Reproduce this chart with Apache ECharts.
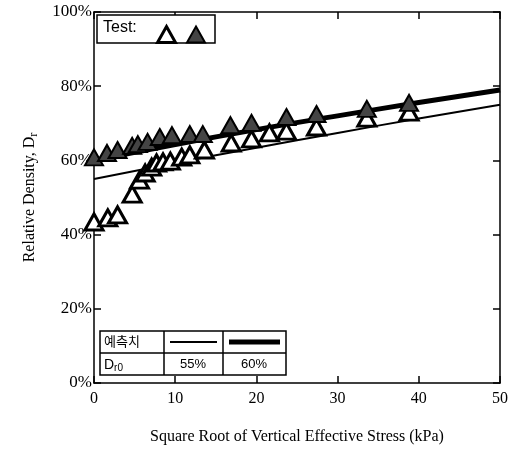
<!DOCTYPE html>
<html><head><meta charset="utf-8">
<script src="https://cdn.jsdelivr.net/npm/echarts@6/dist/echarts.min.js"></script>
<style>html,body{margin:0;padding:0;background:#fff}#c{width:516px;height:452px}</style>
</head><body><div id="c"></div>
<script>
// ---- data ----
const xTicks = [0, 10, 20, 30, 40, 50];
const yTicks = [0, 20, 40, 60, 80, 100];
const testLooseX = [0, 1.7, 2.9, 4.7, 5.6, 6.3, 7.1, 7.7, 8.5, 9.4, 10.8, 11.8, 13.6, 16.9, 19.4, 21.6, 23.7, 27.4, 33.6, 38.8];
const testLooseY = [43.4, 44.5, 45.3, 50.9, 54.7, 56.6, 58.2, 59.3, 59.6, 59.8, 60.9, 61.5, 62.8, 64.7, 65.8, 67.4, 67.9, 69.0, 71.4, 73.0];
const testDenseX = [0, 1.6, 2.9, 4.7, 5.4, 6.6, 8.1, 9.6, 11.8, 13.4, 16.8, 19.4, 23.7, 27.4, 33.6, 38.8];
const testDenseY = [60.8, 62.0, 62.8, 63.9, 64.4, 65.0, 66.3, 66.8, 67.1, 67.1, 69.5, 70.1, 71.7, 72.5, 73.9, 75.5];
const predX = [0, 10, 20, 30, 40, 50];
const pred55 = [55, 59.3, 63.4, 67.4, 71.3, 75];
const pred60 = [60, 64.3, 68.3, 72.0, 75.6, 79];
const tableLabels = ['예측치', '55%', '60%'];

const zip = (a, b) => a.map((v, i) => [v, b[i]]);
const serif = 'Liberation Serif';
const chart = echarts.init(document.getElementById('c'));
const G = {left: 94, right: 500, top: 12, bottom: 383};
const axLine = {onZero: false, lineStyle: {color: '#000', width: 1.5}};
const axTick = {inside: true, length: 7, lineStyle: {color: '#000', width: 1.5}};

chart.setOption({
  animation: false,
  grid: {left: G.left, right: 516 - G.right, top: G.top, bottom: 452 - G.bottom},
  xAxis: [{
    type: 'value', min: xTicks[0], max: xTicks[xTicks.length - 1], interval: 10,
    axisLine: axLine, axisTick: axTick,
    axisLabel: {color: '#000', fontFamily: serif, fontSize: 16, margin: 8},
    splitLine: {show: false},
    name: 'Square Root of Vertical Effective Stress (kPa)', nameLocation: 'middle', nameGap: 46,
    nameTextStyle: {color: '#000', fontFamily: serif, fontSize: 16}
  }, {
    type: 'value', position: 'top', min: 0, max: 50, interval: 10,
    axisLine: axLine, axisTick: axTick,
    axisLabel: {show: false}, splitLine: {show: false}
  }],
  yAxis: [{
    type: 'value', min: yTicks[0], max: yTicks[yTicks.length - 1], interval: 20,
    axisLine: axLine, axisTick: axTick,
    axisLabel: {color: '#000', fontFamily: serif, fontSize: 17, margin: 2, formatter: v => v + '%'},
    splitLine: {show: false},
    name: 'Relative Density, D{s|r}', nameLocation: 'middle', nameGap: 54, nameRotate: 90,
    nameTextStyle: {color: '#000', fontFamily: serif, fontSize: 16,
      rich: {s: {fontFamily: serif, fontSize: 12, verticalAlign: 'bottom', padding: [8, 0, 0, 0]}}}
  }, {
    type: 'value', position: 'right', min: 0, max: 100, interval: 20,
    axisLine: axLine, axisTick: axTick,
    axisLabel: {show: false}, splitLine: {show: false}
  }],
  legend: {
    left: 151, top: 20, itemWidth: 18, itemHeight: 16, itemGap: 9, z: 20,
    formatter: () => '', textStyle: {fontSize: 1},
    data: [
      {name: 'loose', icon: 'triangle', itemStyle: {color: '#fff', borderColor: '#000', borderWidth: 3}},
      {name: 'dense', icon: 'triangle', itemStyle: {color: '#444', borderColor: '#000', borderWidth: 2}}
    ]
  },
  series: [
    {type: 'line', name: 'p55', data: zip(predX, pred55), symbol: 'none', smooth: true,
     lineStyle: {color: '#000', width: 2}, z: 2},
    {type: 'line', name: 'p60', data: zip(predX, pred60), symbol: 'none', smooth: true,
     lineStyle: {color: '#000', width: 5}, z: 2},
    {type: 'scatter', name: 'loose', data: zip(testLooseX, testLooseY), symbol: 'triangle', symbolSize: [18, 16],
     itemStyle: {color: '#fff', borderColor: '#000', borderWidth: 3, opacity: 1}, z: 3},
    {type: 'scatter', name: 'dense', data: zip(testDenseX, testDenseY), symbol: 'triangle', symbolSize: [18, 16],
     itemStyle: {color: '#444', borderColor: '#000', borderWidth: 2, opacity: 1}, z: 4}
  ],
  graphic: [
    // legend box
    {type: 'rect', shape: {x: 97, y: 15, width: 118, height: 28}, style: {fill: '#fff', stroke: '#000', lineWidth: 1.5}, z: 10},
    {type: 'text', x: 103, y: 20, style: {text: 'Test:', font: '16px "Liberation Sans"', fill: '#000'}, z: 11},
    // table
    {type: 'rect', shape: {x: 100, y: 331, width: 186, height: 44}, style: {fill: '#fff', stroke: '#000', lineWidth: 1.5}, z: 10},
    {type: 'line', shape: {x1: 100, y1: 353, x2: 286, y2: 353}, style: {stroke: '#000', lineWidth: 1.5}, z: 11},
    {type: 'line', shape: {x1: 164, y1: 331, x2: 164, y2: 375}, style: {stroke: '#000', lineWidth: 1.5}, z: 11},
    {type: 'line', shape: {x1: 223, y1: 331, x2: 223, y2: 375}, style: {stroke: '#000', lineWidth: 1.5}, z: 11},
    {type: 'line', shape: {x1: 170, y1: 342, x2: 217, y2: 342}, style: {stroke: '#000', lineWidth: 2}, z: 11},
    {type: 'line', shape: {x1: 229, y1: 342, x2: 280, y2: 342}, style: {stroke: '#000', lineWidth: 5}, z: 11},
    {type: 'text', x: 104, y: 335, style: {text: tableLabels[0], font: '13px "Noto Sans CJK KR"', fill: '#000'}, z: 11},
    {type: 'text', x: 104, y: 357, style: {text: 'D{s|r0}', font: '14px "Liberation Sans"', fill: '#000',
      rich: {s: {font: '10px "Liberation Sans"', padding: [6, 0, 0, 0]}}}, z: 11},
    {type: 'text', x: 193, y: 364, style: {text: tableLabels[1], font: '13px "Liberation Sans"', fill: '#000', align: 'center', verticalAlign: 'middle'}, z: 11},
    {type: 'text', x: 254, y: 364, style: {text: tableLabels[2], font: '13px "Liberation Sans"', fill: '#000', align: 'center', verticalAlign: 'middle'}, z: 11}
  ]
});
</script></body></html>
